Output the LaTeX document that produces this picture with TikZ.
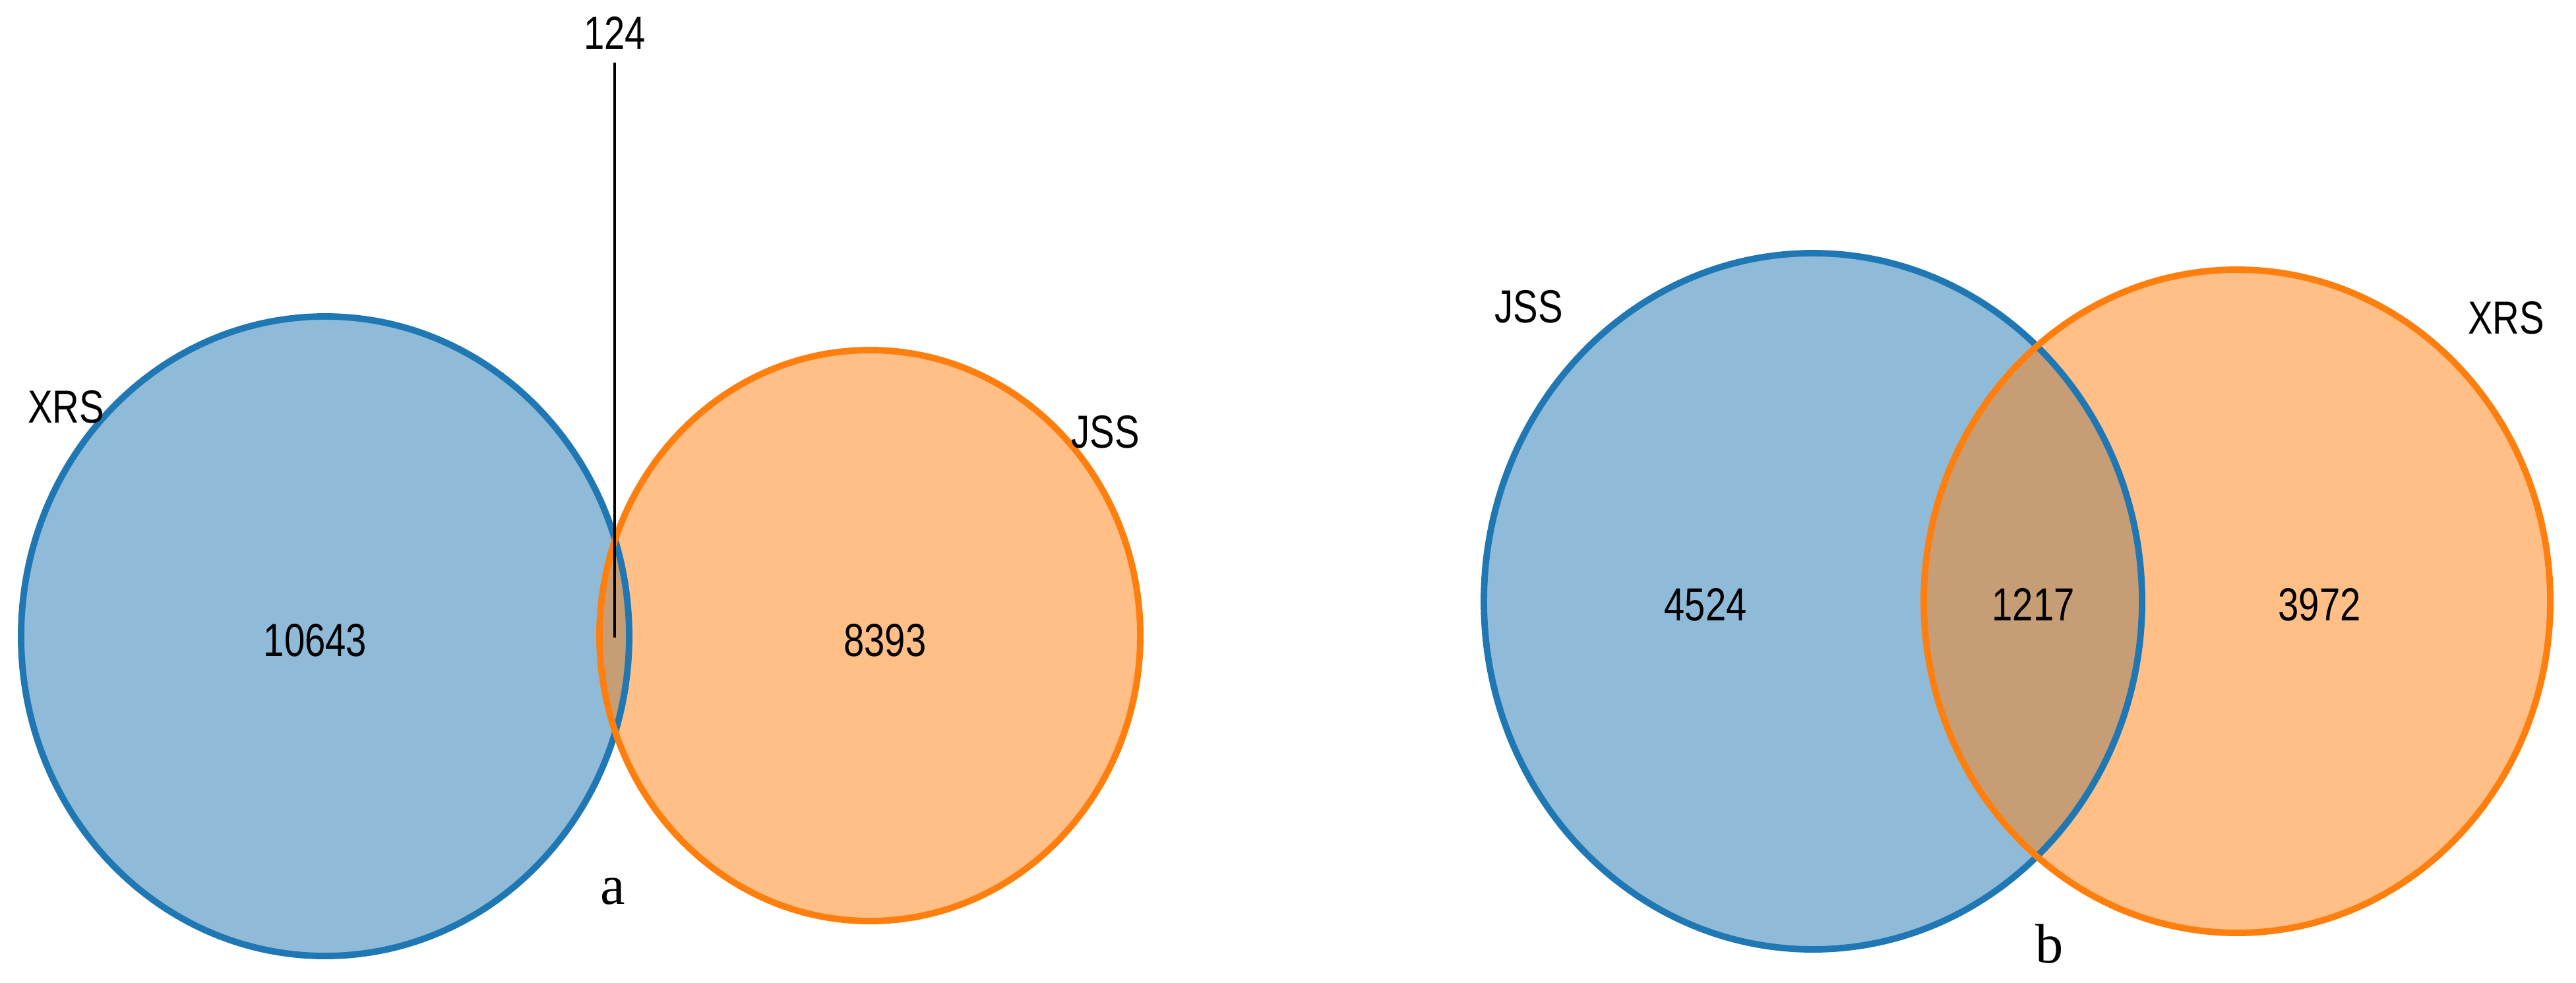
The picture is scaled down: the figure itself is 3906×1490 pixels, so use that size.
\documentclass[tikz,border=0pt]{standalone}
\usepackage{fontspec}
\usepackage{graphicx}
\setmainfont{Liberation Sans}
\newfontfamily\serifcap{Liberation Serif}
\newcommand\stretchtxt[1]{\scalebox{1}[1.25]{#1}}
\begin{document}
\begin{tikzpicture}[x=0.01cm,y=-0.01cm,
  lbl/.style={font=\fontsize{16}{18}\selectfont, inner sep=0pt},
  panelcap/.style={font=\serifcap\fontsize{24}{26}\selectfont, inner sep=0pt},
  bluefill/.style={fill=vblue!50!white},
  orangefill/.style={fill=vorange!50!white},
  blueedge/.style={draw=vblue, line width=2.8pt},
  orangeedge/.style={draw=vorange, line width=2.8pt}]
\definecolor{vblue}{HTML}{1F77B4}
\definecolor{vorange}{HTML}{FF7F0E}
\definecolor{vmix}{HTML}{C69D75}
\useasboundingbox (0,0) rectangle (3906,1490);
% ---------- panel a ----------
\fill[bluefill] (493,965) ellipse [x radius=461, y radius=485];
\fill[orangefill] (1319,964) ellipse [x radius=410, y radius=433];
\begin{scope}
  \clip (493,965) ellipse [x radius=461, y radius=485];
  \fill[vmix] (1319,964) ellipse [x radius=410, y radius=433];
\end{scope}
\draw[blueedge] (493,965) ellipse [x radius=461, y radius=485];
\draw[orangeedge] (1319,964) ellipse [x radius=410, y radius=433];
\node[lbl] (n10643) at (478,971) {\stretchtxt{10643}};
\node[lbl] (n8393) at (1342,971) {\stretchtxt{8393}};
\node[lbl] (xrsa) at (100,617) {\stretchtxt{XRS}};
\node[lbl] (jssa) at (1676,655) {\stretchtxt{JSS}};
\node[lbl] (l124) at (932,50) {\stretchtxt{124}};
\coordinate (p124) at (932,967);
\draw[line width=1.1pt] ([yshift=-0.2cm]l124.south) -- (p124);
\node[panelcap] (capa) at (929,1352) {a};
% ---------- panel b ----------
\fill[bluefill] (2749,912) ellipse [x radius=499, y radius=528];
\fill[orangefill] (3392,912) ellipse [x radius=475, y radius=503];
\begin{scope}
  \clip (2749,912) ellipse [x radius=499, y radius=528];
  \fill[vmix] (3392,912) ellipse [x radius=475, y radius=503];
\end{scope}
\draw[blueedge] (2749,912) ellipse [x radius=499, y radius=528];
\draw[orangeedge] (3392,912) ellipse [x radius=475, y radius=503];
\node[lbl] (n4524) at (2586,917) {\stretchtxt{4524}};
\node[lbl] (n1217) at (3083,917) {\stretchtxt{1217}};
\node[lbl] (n3972) at (3517,917) {\stretchtxt{3972}};
\node[lbl] (jssb) at (2318,465) {\stretchtxt{JSS}};
\node[lbl] (xrsb) at (3800,482) {\stretchtxt{XRS}};
\node[panelcap] (capb) at (3108,1432) {b};
\end{tikzpicture}
\end{document}
